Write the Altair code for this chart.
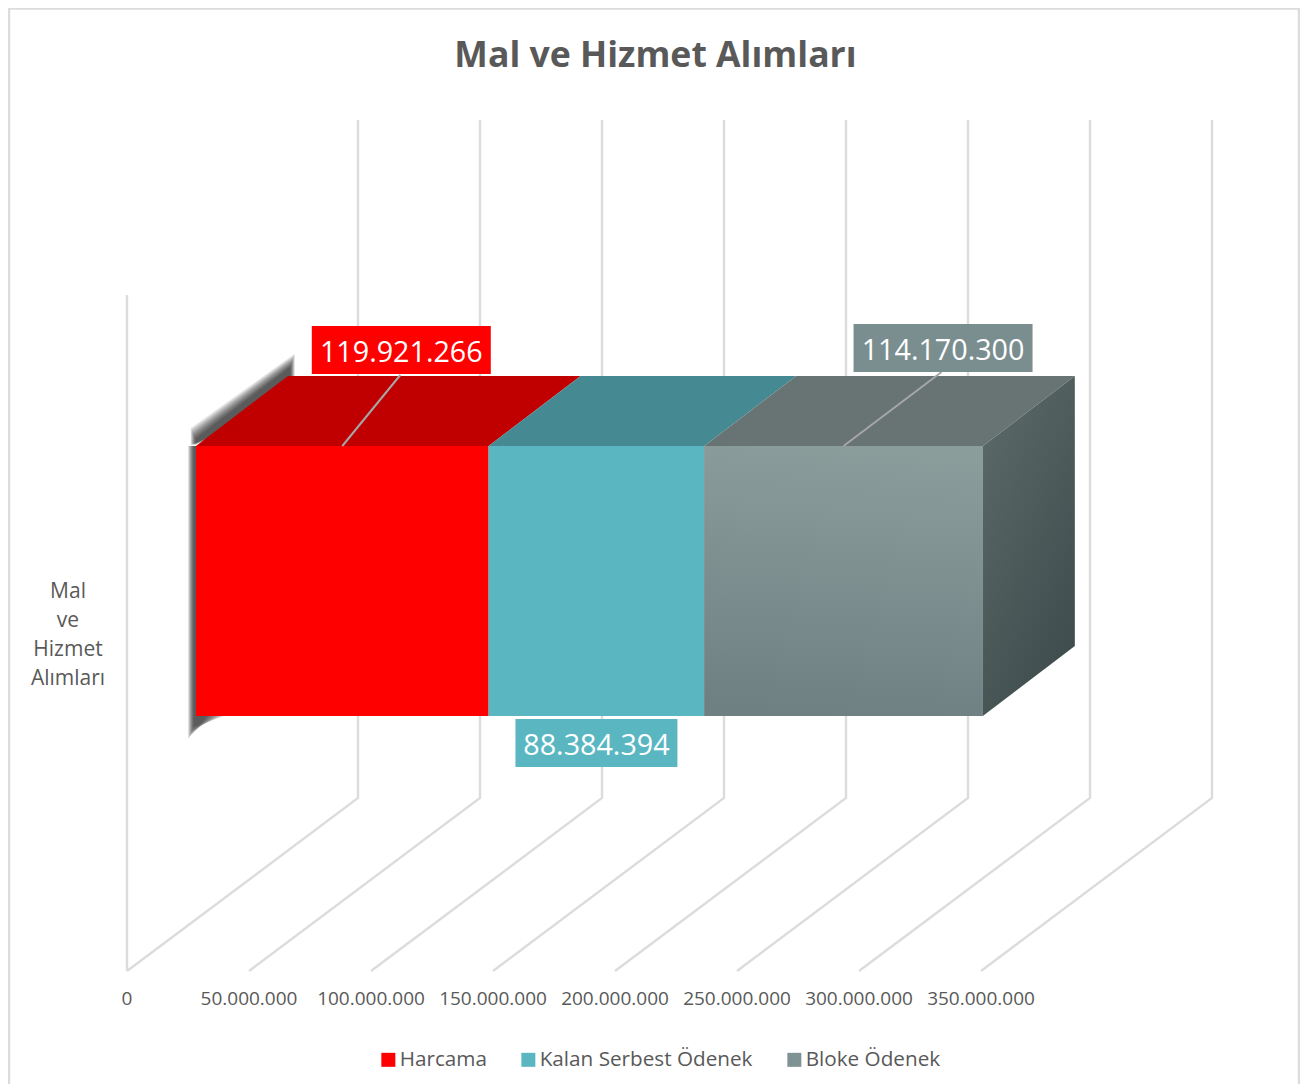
import altair as alt
import pandas as pd

# ---- chart values ----
SERIES = ["Harcama", "Kalan Serbest Ödenek", "Bloke Ödenek"]
VALUES = [119921266, 88384394, 114170300]
VALUE_LABELS = ["119.921.266", "88.384.394", "114.170.300"]
SERIES_COLORS = ["#ff0000", "#5ab7c2", "#7f9395"]
TOP_COLORS = ["#c00000", "#458a93", "#687473"]
TICKS = [0, 50000000, 100000000, 150000000, 200000000, 250000000, 300000000, 350000000]
TICK_LABELS = ["0", "50.000.000", "100.000.000", "150.000.000", "200.000.000", "250.000.000", "300.000.000",
               "350.000.000"]
CATEGORY = "Mal\nve\nHizmet\nAlımları"
TITLE = "Mal ve Hizmet Alımları"

# ---- projection of the 3D box, in screen pixels ----
W, H = 1292, 1076
K = 122 / 50000000          # px per value unit
ORIGIN_PX, FLOOR_PX = 127, 971


def ux(px):                 # page x -> x scale
    return (px - ORIGIN_PX) / K


def dx(px):                 # px length -> x scale
    return px / K


def uy(py):                 # page y -> y scale
    return FLOOR_PX - py


GREY = "#595959"
FONT = "Open Sans"
LINE = "#dcdcdc"
xs = alt.Scale(domain=[ux(8), ux(8 + W)], nice=False, zero=False, padding=0)
ys = alt.Scale(domain=[uy(8 + H), uy(8)], nice=False, zero=False, padding=0)


def X(f="x"):
    return alt.X(f"{f}:Q", scale=xs, axis=None, title=None)


def Y(f="y"):
    return alt.Y(f"{f}:Q", scale=ys, axis=None, title=None)


grid_rows = []
for t in TICKS:
    grid_rows += [dict(t=t, i=0, x=t, y=uy(971)),
                  dict(t=t, i=1, x=t + dx(231), y=uy(798)),
                  dict(t=t, i=2, x=t + dx(231), y=uy(120))]
grid = alt.Chart(pd.DataFrame(grid_rows)).mark_line(color=LINE, strokeWidth=2.4).encode(
    x=X(), y=Y(), detail="t:N", order="i:Q")

tick_text = alt.Chart(pd.DataFrame(dict(x=TICKS, y=uy(999), text=TICK_LABELS))).mark_text(
    fontSize=19, font=FONT, color=GREY, align="center", baseline="middle").encode(x=X(), y=Y(), text="text:N")

wall = alt.Chart(pd.DataFrame([dict(x=0, y=uy(971), y2=uy(295))])).mark_rule(color=LINE, strokeWidth=2.4).encode(
    x=X(), y=Y(), y2=alt.Y2("y2:Q"))

frame = alt.Chart(pd.DataFrame([dict(x=ux(9), y=uy(8), x2=ux(9), y2=uy(1092)),
                                dict(x=ux(8 + W - 1), y=uy(8), x2=ux(8 + W - 1), y2=uy(1092)),
                                dict(x=ux(9), y=uy(8.5), x2=ux(8 + W), y2=uy(8.5))])).mark_rule(
    color=LINE, strokeWidth=2.4).encode(x=X(), y=Y(), x2=alt.X2("x2:Q"), y2=alt.Y2("y2:Q"))

# ---- segments ----
BAR_X0 = dx(196 - ORIGIN_PX)
BAR_Y0, BAR_Y1 = uy(716), uy(446)
DEPTH_X, DEPTH_Y = dx(92), 70
starts, s = [], BAR_X0
for v in VALUES:
    starts.append(s)
    s += v
end = s

front_df = pd.DataFrame(dict(series=SERIES, x=starts, x2=[a + v for a, v in zip(starts, VALUES)],
                             y=BAR_Y0, y2=BAR_Y1))
front = alt.Chart(front_df).mark_rect(strokeWidth=0).encode(
    x=X(), x2=alt.X2("x2:Q"), y=Y(), y2=alt.Y2("y2:Q"),
    color=alt.Color("series:N", scale=alt.Scale(domain=SERIES, range=SERIES_COLORS),
                    legend=alt.Legend(orient="none", legendX=370, legendY=1041, direction="horizontal", title=None,
                                      symbolType="square", symbolSize=196, symbolStrokeWidth=0, labelFontSize=20.7,
                                      labelFont=FONT, labelColor=GREY, labelLimit=400, columnPadding=31,
                                      labelOffset=1, columns=3)))

grey_front = alt.Chart(front_df[front_df.series == SERIES[2]]).mark_rect(
    fill={"gradient": "linear", "x1": 0.55, "y1": 0, "x2": 0.45, "y2": 1,
          "stops": [{"offset": 0, "color": "#8b9d9b"}, {"offset": 1, "color": "#6e8082"}]}
).encode(x=X(), x2=alt.X2("x2:Q"), y=Y(), y2=alt.Y2("y2:Q"))

top_rows = []
for n, a, v, c in zip(SERIES, starts, VALUES, TOP_COLORS):
    top_rows += [dict(s=n, y=BAR_Y1, x=a, x2=a + v),
                 dict(s=n, y=BAR_Y1 + DEPTH_Y, x=a + DEPTH_X, x2=a + v + DEPTH_X)]
top = alt.Chart(pd.DataFrame(top_rows)).mark_area(orient="horizontal").encode(
    y=Y(), x=X(), x2=alt.X2("x2:Q"),
    color=alt.Color("s:N", scale=alt.Scale(domain=SERIES, range=TOP_COLORS), legend=None))

side = alt.Chart(pd.DataFrame([dict(x=end, y=BAR_Y0, y2=BAR_Y1),
                               dict(x=end + DEPTH_X, y=BAR_Y0 + DEPTH_Y, y2=BAR_Y1 + DEPTH_Y)])).mark_area(
    fill={"gradient": "linear", "x1": 0.2, "y1": 0, "x2": 0.8, "y2": 1,
          "stops": [{"offset": 0, "color": "#5a6867"}, {"offset": 1, "color": "#3d4b4c"}]}
).encode(x=X(), y=Y(), y2=alt.Y2("y2:Q"))

# ---- soft shadow, built as nested translucent shapes ----
sh = []
for w in range(1, 13):
    t = 8 + 1.2 * w
    sh += [dict(k=f"d{w}", x=ux(196 - 0.45 * w), y=uy(446 - 0.8 * t), y2=uy(445)),
           dict(k=f"d{w}", x=ux(290 + 0.4 * w), y=uy(376 - t), y2=uy(400)),
           dict(k=f"l{w}", x=ux(196 - 2 - 0.5 * w), y=uy(446), y2=uy(716)),
           dict(k=f"l{w}", x=ux(197), y=uy(446), y2=uy(716)),
           dict(k=f"b{w}", x=ux(196 - 2 - 0.5 * w), y=uy(716), y2=uy(716 + 10 + 1.1 * w)),
           dict(k=f"b{w}", x=ux(196 + 30 - 1.6 * w), y=uy(716), y2=uy(716))]
shadow = alt.Chart(pd.DataFrame(sh)).mark_area(color="#000000", opacity=0.08).encode(
    x=X(), y=Y(), y2=alt.Y2("y2:Q"), detail="k:N")

# ---- data labels ----
mids = [a + v / 2 for a, v in zip(starts, VALUES)]
LABEL_DX = [59, 0, 99.5]
LABEL_Y = [350, 743, 348]
BOX_W = [179, 162, 179]
BOX_H = 48
lab_df = pd.DataFrame(dict(series=SERIES, text=VALUE_LABELS,
                           x=[m + dx(o) for m, o in zip(mids, LABEL_DX)],
                           xa=[m + dx(o - b / 2) for m, o, b in zip(mids, LABEL_DX, BOX_W)],
                           xb=[m + dx(o + b / 2) for m, o, b in zip(mids, LABEL_DX, BOX_W)],
                           y=[uy(p) for p in LABEL_Y],
                           ya=[uy(p - BOX_H / 2) for p in LABEL_Y],
                           yb=[uy(p + BOX_H / 2) for p in LABEL_Y]))
boxes = alt.Chart(lab_df).mark_rect().encode(
    x=X("xa"), x2=alt.X2("xb:Q"), y=Y("ya"), y2=alt.Y2("yb:Q"),
    color=alt.Color("series:N", scale=alt.Scale(domain=SERIES, range=["#ff0000", "#5ab7c2", "#7a8e90"]), legend=None))
labels = alt.Chart(lab_df).mark_text(color="#ffffff", fontSize=28.7, font=FONT, baseline="middle", align="center",
                                     dy=3).encode(x=X(), y=Y(), text="text:N")

lead_df = pd.DataFrame([dict(x=mids[0], y=BAR_Y1, x2=mids[0] + dx(58), y2=uy(375)),
                        dict(x=mids[2], y=BAR_Y1, x2=mids[2] + dx(98), y2=uy(372))])
leaders = alt.Chart(lead_df).mark_rule(color="#a6a6a6", strokeWidth=2).encode(
    x=X(), y=Y(), x2=alt.X2("x2:Q"), y2=alt.Y2("y2:Q"))

cat = alt.Chart(pd.DataFrame([dict(x=ux(68), y=uy(592), text=CATEGORY)])).mark_text(
    fontSize=21, font=FONT, color=GREY, lineBreak="\n", lineHeight=29, align="center", baseline="middle").encode(
    x=X(), y=Y(), text="text:N")

chart = alt.layer(grid, frame, wall, tick_text, shadow, top, side, front, grey_front, leaders, boxes, labels,
                  cat).resolve_scale(
    color="independent"
).properties(
    width=W, height=H, padding=0, autosize=alt.AutoSizeParams(type="none"),
    background="#ffffff",
    title=alt.TitleParams(TITLE, fontSize=35.6, font=FONT, fontWeight="bold", color=GREY, anchor="middle",
                          frame="group", offset=0, dy=68, dx=1.5)
).configure_view(stroke=None)

chart.save("out.html", embed_options={"renderer": "svg", "actions": False})
